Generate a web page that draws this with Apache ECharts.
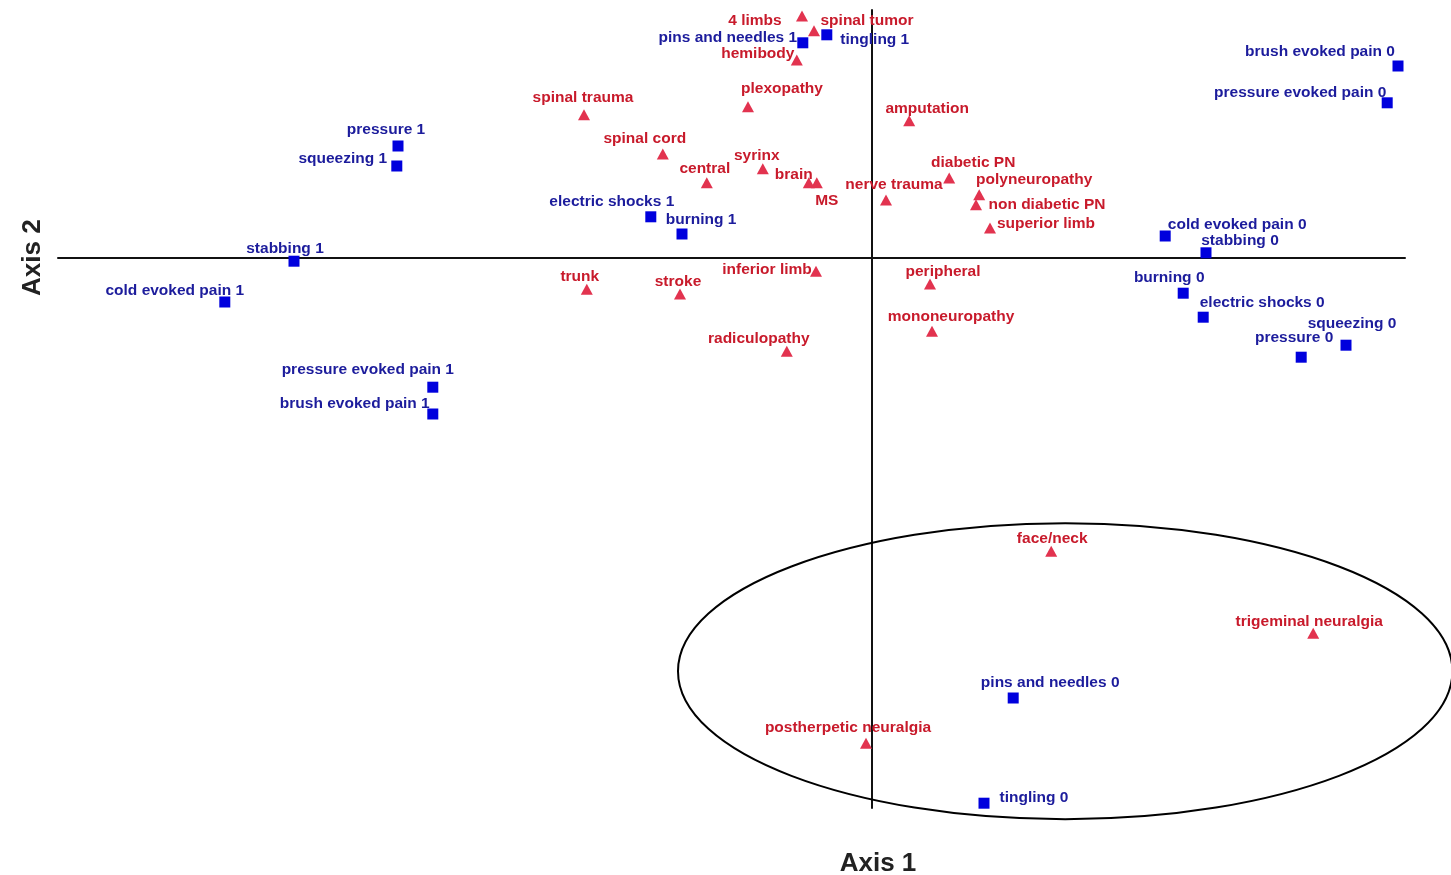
<!DOCTYPE html>
<html>
<head>
<meta charset="utf-8">
<script src="https://cdn.jsdelivr.net/npm/echarts@6/dist/echarts.min.js"></script>
<style>
  html, body { margin: 0; padding: 0; background: #fff; }
  #chart { width: 1451px; height: 875px; }
</style>
</head>
<body>
<div id="chart"></div>
<script>
// Symptom categories (coordinates on the first two axes)
const symptomNames = [
  'pins and needles 1', 'tingling 1', 'brush evoked pain 0', 'pressure evoked pain 0',
  'pressure 1', 'squeezing 1', 'electric shocks 1', 'burning 1', 'stabbing 1',
  'cold evoked pain 1', 'pressure evoked pain 1', 'brush evoked pain 1',
  'cold evoked pain 0', 'stabbing 0', 'burning 0', 'electric shocks 0',
  'squeezing 0', 'pressure 0', 'pins and needles 0', 'tingling 0'
];
const symptomAxis1 = [
  -0.173, -0.113, 1.315, 1.288,
  -1.185, -1.188, -0.553, -0.475, -1.445,
  -1.618, -1.098, -1.098,
  0.733, 0.835, 0.778, 0.828,
  1.185, 1.073, 0.353, 0.280
];
const symptomAxis2 = [
  0.538, 0.558, 0.480, 0.388,
  0.280, 0.230, 0.103, 0.060, -0.008,
  -0.110, -0.323, -0.390,
  0.055, 0.013, -0.088, -0.148,
  -0.218, -0.248, -1.100, -1.363
];

// Etiology / location categories
const etiologyNames = [
  '4 limbs', 'spinal tumor', 'hemibody', 'plexopathy', 'spinal trauma', 'amputation',
  'spinal cord', 'syrinx', 'central', 'brain', 'MS', 'nerve trauma', 'diabetic PN',
  'polyneuropathy', 'non diabetic PN', 'superior limb', 'trunk', 'stroke',
  'inferior limb', 'peripheral', 'mononeuropathy', 'radiculopathy', 'face/neck',
  'trigeminal neuralgia', 'postherpetic neuralgia'
];
const etiologyAxis1 = [
  -0.175, -0.145, -0.188, -0.310, -0.720, 0.093,
  -0.523, -0.273, -0.413, -0.158, -0.138, 0.035, 0.193,
  0.268, 0.260, 0.295, -0.713, -0.480,
  -0.140, 0.145, 0.150, -0.213, 0.448,
  1.103, -0.015
];
const etiologyAxis2 = [
  0.605, 0.568, 0.495, 0.378, 0.358, 0.343,
  0.260, 0.223, 0.188, 0.188, 0.188, 0.145, 0.200,
  0.158, 0.133, 0.075, -0.078, -0.090,
  -0.033, -0.065, -0.183, -0.233, -0.733,
  -0.938, -1.213
];

// Highlighted cluster: centre and semi-axes in axis units
const clusterEllipse = [[0.483, -1.033, 0.968, 0.370]];

// Label placement (pixel offset of label centre from its marker)
const labelOffset = {
  'pins and needles 1': [-75, -5], 'tingling 1': [48, 5],
  'brush evoked pain 0': [-78, -14], 'pressure evoked pain 0': [-87, -10],
  'pressure 1': [-12, -16], 'squeezing 1': [-54, -7],
  'electric shocks 1': [-39, -15], 'burning 1': [19, -14],
  'stabbing 1': [-9, -12], 'cold evoked pain 1': [-50, -11],
  'pressure evoked pain 1': [-65, -17], 'brush evoked pain 1': [-78, -10],
  'cold evoked pain 0': [72, -11], 'stabbing 0': [34, -12],
  'burning 0': [-14, -15], 'electric shocks 0': [59, -14],
  'squeezing 0': [6, -21], 'pressure 0': [-7, -19],
  'pins and needles 0': [37, -15], 'tingling 0': [50, -5],
  '4 limbs': [-47, 5], 'spinal tumor': [53, -10], 'hemibody': [-39, -6],
  'plexopathy': [34, -18], 'spinal trauma': [-1, -17], 'amputation': [18, -12],
  'spinal cord': [-18, -15], 'syrinx': [-6, -13], 'central': [-2, -14],
  'brain': [-15, -8], 'MS': [10, 18], 'nerve trauma': [8, -15],
  'diabetic PN': [24, -15], 'polyneuropathy': [55, -15],
  'non diabetic PN': [71, 0], 'superior limb': [56, -4],
  'trunk': [-7, -12], 'stroke': [-2, -12], 'inferior limb': [-49, -1],
  'peripheral': [13, -12], 'mononeuropathy': [19, -14],
  'radiculopathy': [-28, -12], 'face/neck': [1, -12],
  'trigeminal neuralgia': [-4, -11], 'postherpetic neuralgia': [-18, -15]
};

const FONT = '"Liberation Sans", Arial, sans-serif';

function points(names, xs, ys, textColor) {
  return names.map((n, i) => ({
    name: n,
    value: [xs[i], ys[i]],
    label: {
      show: true,
      formatter: n,
      position: 'inside',
      align: 'center',
      verticalAlign: 'middle',
      offset: labelOffset[n] || [0, -14],
      color: textColor,
      fontFamily: FONT,
      fontWeight: 'bold',
      fontSize: 15.5
    }
  }));
}

const chart = echarts.init(document.getElementById('chart'), null, { renderer: 'canvas' });

chart.setOption({
  animation: false,
  backgroundColor: '#ffffff',
  grid: { left: 58, right: 46, top: 10, bottom: 67 },
  xAxis: {
    type: 'value', min: -2.035, max: 1.3325,
    axisLine: { show: true, onZero: true, lineStyle: { color: '#111', width: 2 } },
    axisTick: { show: false }, axisLabel: { show: false }, splitLine: { show: false }
  },
  yAxis: {
    type: 'value', min: -1.375, max: 0.62,
    axisLine: { show: true, onZero: true, lineStyle: { color: '#111', width: 2 } },
    axisTick: { show: false }, axisLabel: { show: false }, splitLine: { show: false }
  },
  graphic: [
    {
      type: 'text', x: 878, y: 851,
      style: { text: 'Axis 1', font: 'bold 26px ' + FONT, fill: '#222', textAlign: 'center' }
    },
    {
      type: 'text', rotation: Math.PI / 2, x: 20, y: 296,
      style: { text: 'Axis 2', font: 'bold 26px ' + FONT, fill: '#222' }
    }
  ],
  series: [
    {
      type: 'custom',
      name: 'cluster',
      silent: true,
      clip: false,
      z: 1,
      data: clusterEllipse,
      renderItem: function (params, api) {
        const c = api.coord([api.value(0), api.value(1)]);
        const s = api.size([api.value(2), api.value(3)]);
        return {
          type: 'ellipse',
          shape: { cx: c[0], cy: c[1], rx: s[0], ry: s[1] },
          style: { fill: 'none', stroke: '#000', lineWidth: 2 }
        };
      }
    },
    {
      type: 'scatter',
      name: 'symptoms',
      symbol: 'rect',
      symbolSize: 11,
      itemStyle: { color: '#0000dd', opacity: 1 },
      z: 3,
      data: points(symptomNames, symptomAxis1, symptomAxis2, '#1c1c9c')
    },
    {
      type: 'scatter',
      name: 'etiology',
      symbol: 'triangle',
      symbolSize: [12, 11],
      itemStyle: { color: '#e2334f', opacity: 1 },
      z: 3,
      data: points(etiologyNames, etiologyAxis1, etiologyAxis2, '#c81a2b')
    }
  ]
});
</script>
</body>
</html>
